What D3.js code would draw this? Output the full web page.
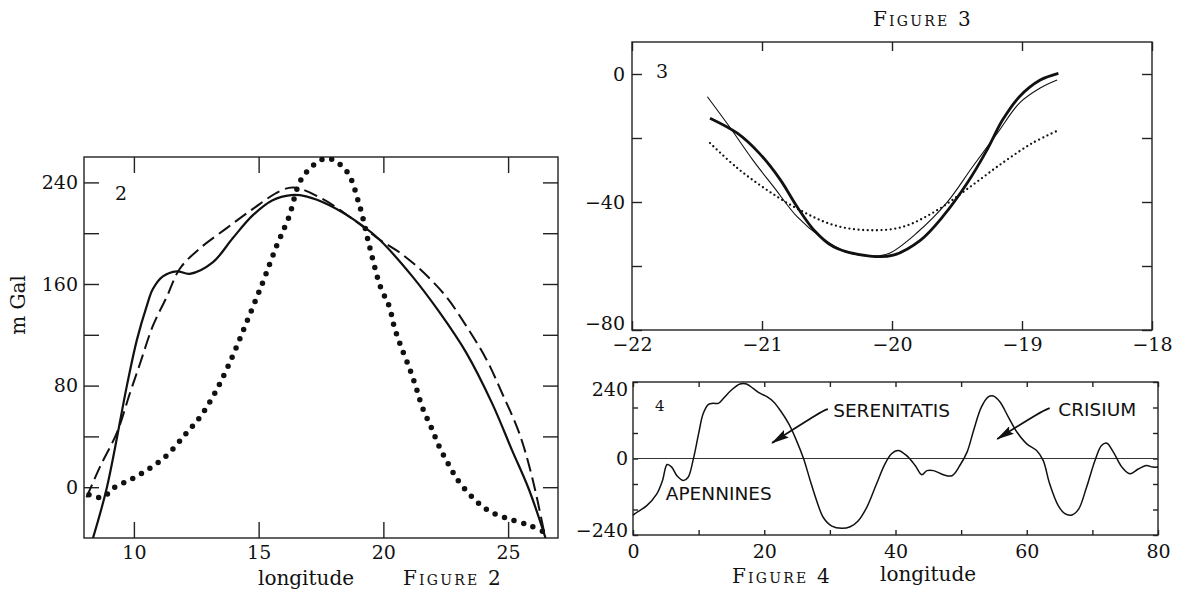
<!DOCTYPE html>
<html>
<head>
<meta charset="utf-8">
<script src="https://cdn.jsdelivr.net/npm/d3@7"></script>
<style>
  html, body { margin: 0; padding: 0; background: #fff; }
  svg { display: block; }
  .frame { fill: none; stroke: #222; stroke-width: 1.4; }
  .tick line { stroke: #222; stroke-width: 1.4; }
  .serif { font-family: "DejaVu Serif", serif; fill: #111; }
  .caps { font-family: "DejaVu Serif", serif; font-variant: small-caps; fill: #111; }
  .sans { font-family: "DejaVu Sans", sans-serif; fill: #111; }
</style>
</head>
<body>
<script>
'use strict';

// ---- figure 2 : gravity profile, three curves (longitude, m Gal)
var fig2Solid = [[8.36, -40], [8.92, 0], [9.72, 80], [10.12, 116], [10.52, 143], [10.76, 156],
    [11.16, 166], [11.72, 170], [12.24, 168], [13.16, 177], [13.96, 196], [14.76, 214],
    [15.56, 226], [16.3, 230], [16.9, 229], [17.84, 222], [19.16, 206], [19.84, 195],
    [21.16, 166], [22.24, 138], [23.32, 106], [24.36, 66], [25.16, 29], [25.84, -2], [26.5, -40]];
var fig2Dashed = [[8.1, -8], [8.64, 16], [9.32, 43], [9.84, 74], [10.24, 97], [10.76, 127],
    [11.32, 150], [11.84, 172], [12.64, 188], [13.72, 204], [14.76, 219], [15.84, 233],
    [16.4, 236], [17.56, 227], [18.92, 209], [19.84, 195], [20.64, 185], [21.56, 170],
    [22.52, 150], [23.32, 127], [24.12, 101], [24.76, 74], [25.44, 43], [25.96, 8], [26.45, -36]];
var fig2Dotted = [[8.2, -6], [8.76, -8], [9.16, -1], [9.96, 7], [10.64, 15], [11.32, 25],
    [12.12, 43], [12.64, 55], [13.16, 71], [13.84, 98], [14.52, 130], [15.16, 161],
    [15.72, 190], [16.2, 212], [16.76, 244], [17.72, 259], [18.52, 249], [19.04, 222],
    [19.44, 190], [19.88, 158], [20.24, 142], [20.44, 126], [20.72, 110], [21.04, 94],
    [21.32, 78], [21.56, 63], [21.92, 47], [22.24, 32], [22.64, 17], [23.04, 4], [23.84, -13],
    [24.36, -20], [25.04, -25], [25.84, -30], [26.4, -35]];
var fig2XTicks = [10, 15, 20, 25];
var fig2YTicks = [0, 40, 80, 120, 160, 200, 240];
var fig2YLabels = [0, 80, 160, 240];

// ---- figure 3
var fig3Thick = [[-21.4, -13.8], [-21.19, -18.5], [-21.02, -24.8], [-20.86, -33], [-20.73, -41.5],
    [-20.6, -48.8], [-20.45, -54], [-20.17, -56.9], [-19.99, -56.6], [-19.78, -51.9],
    [-19.61, -44.6], [-19.42, -34], [-19.27, -23.8], [-19.15, -14.4], [-19.02, -7.1],
    [-18.86, -1.9], [-18.72, 0.2]];
var fig3Thin = [[-21.42, -7.1], [-21.25, -16.5], [-21.07, -26.9], [-20.91, -35.3], [-20.73, -44.6],
    [-20.55, -50.9], [-20.35, -55.6], [-20.15, -56.9], [-20.02, -56], [-19.81, -49.7],
    [-19.58, -40.3], [-19.38, -29], [-19.19, -18.5], [-19.02, -9.1], [-18.86, -4.4],
    [-18.73, -1.9]];
var fig3Dotted = [[-21.4, -21.6], [-21.19, -29.4], [-20.96, -36.3], [-20.71, -42.5],
    [-20.45, -47.2], [-20.19, -48.8], [-19.92, -47.8], [-19.65, -42.5], [-19.4, -35.3],
    [-19.15, -27.8], [-18.92, -21.6], [-18.73, -17.8]];
var fig3XTicks = [-22, -21, -20, -19, -18];
var fig3YTicks = [0, -20, -40, -60, -80];
var fig3YLabels = [0, -40, -80];

// ---- figure 4
var fig4Profile = [[0, -178], [0.3, -173], [2.1, -148], [3.6, -112], [4.5, -69], [5.2, -19],
    [5.9, -27], [6.7, -54], [7.7, -69], [8.4, -59], [9.2, -1], [10, 78], [10.7, 141],
    [11.5, 170], [12.2, 173], [13.0, 173], [13.8, 189], [15.0, 215], [16.3, 234], [17.3, 234],
    [18.3, 220], [19.4, 204], [20.4, 194], [21.4, 178], [22.4, 152], [23.7, 110], [24.9, 57],
    [26.0, -1], [27.0, -69], [28.0, -133], [29.0, -185], [30.3, -212], [31.8, -219],
    [33.1, -214], [34.3, -196], [35.6, -154], [37.1, -80], [38.4, -17], [39.4, 15],
    [40.4, 25], [41.7, 9], [43.0, -22], [44.0, -51], [44.8, -38], [45.8, -38], [47.3, -51],
    [48.6, -54], [49.8, -22], [50.9, 20], [51.9, 88], [53.1, 162], [54.2, 194], [54.9, 196],
    [55.9, 178], [57.2, 130], [58.5, 83], [60.0, 46], [61.5, 25], [62.5, -6], [63.5, -80],
    [64.8, -148], [65.8, -173], [66.9, -177], [67.9, -159], [69.1, -91], [70.4, -6],
    [71.4, 41], [72.2, 48], [73.2, 20], [74.5, -27], [75.7, -48], [77.0, -33], [78.2, -22],
    [79.2, -27], [80, -27]];
var fig4XTicks = [0, 10, 20, 30, 40, 50, 60, 70, 80];
var fig4XLabels = [0, 20, 40, 60, 80];
var fig4YTicks = [-240, -160, -80, 0, 80, 160, 240];
var fig4YLabels = [-240, 0, 240];
var fig4Names = ["SERENITATIS", "CRISIUM", "APENNINES"];
var fig4NamePos = [[30.5, 152], [64.8, 155], [5.0, -108]];
var fig4Arrows = [[[29.7, 155], [28.8, 149], [21.2, 49]], [[63.5, 158], [62.3, 149], [55.5, 61]]];


var moonChart = {};
moonChart.width = 1178;
moonChart.height = 597;

moonChart.appendSvg = function(domObj, width, height){
    var svgNode = d3.select(domObj)
                    .append("svg")
                    .attr("width", width)
                    .attr("height", height);
    svgNode.append("rect").attr("width", width).attr("height", height).attr("fill", "#fff");
    return svgNode;
}

// frame + inward ticks on all four sides
moonChart.appendFrame = function(svg, xScale, yScale, o){
    var x0 = xScale.range()[0], x1 = xScale.range()[1];
    var y0 = yScale.range()[1], y1 = yScale.range()[0];
    var fmt = d3.format("d");
    var yMin = yScale.domain()[0], yMax = yScale.domain()[1];

    var label = function(list){
        return function(d){ return list.indexOf(d) >= 0 ? fmt(d) : ""; };
    };

    var styleAxis = function(g){
        g.select(".domain").remove();
        g.attr("font-family", "DejaVu Serif, serif").attr("font-size", o.fontSize);
        g.selectAll("text").attr("fill", "#111");
    };

    svg.append("g").attr("transform", "translate(0," + y1 + ")")
        .call(d3.axisBottom(xScale).tickValues(o.xTicks).tickSize(-o.xTickLen)
              .tickPadding(o.xPad).tickFormat(label(o.xLabels)))
        .call(styleAxis);
    svg.append("g").attr("transform", "translate(0," + y0 + ")")
        .call(d3.axisTop(xScale).tickValues(o.xTicks).tickSize(-o.xTickLen).tickFormat(""))
        .call(styleAxis);
    var left = svg.append("g").attr("transform", "translate(" + x0 + ",0)")
        .call(d3.axisLeft(yScale).tickValues(o.yTicks).tickSize(-o.yTickLen)
              .tickPadding(o.yPad).tickFormat(label(o.yLabels)))
        .call(styleAxis);
    svg.append("g").attr("transform", "translate(" + x1 + ",0)")
        .call(d3.axisRight(yScale).tickValues(o.yTicks).tickSize(-o.yTickLen).tickFormat(""))
        .call(styleAxis);

    // end labels nudged like the printed figure
    left.selectAll(".tick text")
        .attr("y", function(d){
            if (d === yMin) return -(o.lowShift || 0);
            if (d === yMax) return (o.highShift || 0);
            return 0;
        });

    svg.append("rect").classed("frame", true)
        .attr("x", x0).attr("y", y0)
        .attr("width", x1 - x0).attr("height", y1 - y0);
}

moonChart.appendCurve = function(svg, xScale, yScale, data, width, dash, cap){
    var line = d3.line()
        .x(function(d){ return xScale(d[0]); })
        .y(function(d){ return yScale(d[1]); })
        .curve(d3.curveCatmullRom.alpha(0.5));
    svg.append("path")
        .datum(data)
        .attr("d", line)
        .attr("fill", "none")
        .attr("stroke", "#111")
        .attr("stroke-width", width)
        .attr("stroke-dasharray", dash || null)
        .attr("stroke-linecap", cap || "butt")
        .attr("stroke-linejoin", "round");
}

moonChart.drawFigure2 = function(svg){
    var xScale = d3.scaleLinear().domain([8, 27]).range([84, 558]);
    var yScale = d3.scaleLinear().domain([-40, 260]).range([538, 157]);

    moonChart.appendFrame(svg, xScale, yScale, {
        xTicks: fig2XTicks, xLabels: fig2XTicks, yTicks: fig2YTicks, yLabels: fig2YLabels,
        xTickLen: 16, yTickLen: 15, xPad: 8, yPad: 6, fontSize: 19
    });

    svg.append("clipPath").attr("id", "clip2").append("rect")
        .attr("x", 84).attr("y", 157).attr("width", 474).attr("height", 381);
    var g = svg.append("g").attr("clip-path", "url(#clip2)");
    moonChart.appendCurve(g, xScale, yScale, fig2Solid, 2.2);
    moonChart.appendCurve(g, xScale, yScale, fig2Dashed, 2, "14 6");
    moonChart.appendCurve(g, xScale, yScale, fig2Dotted, 5.5, "0 10", "round");

    svg.append("text").classed("serif", true).attr("x", 115).attr("y", 200)
        .attr("font-size", 19).text("2");
    svg.append("text").classed("serif", true)
        .attr("transform", "translate(25,305) rotate(-90)")
        .attr("text-anchor", "middle").attr("font-size", 20).text("m Gal");
    svg.append("text").classed("serif", true).attr("x", 258).attr("y", 585)
        .attr("font-size", 20).text("longitude");
    svg.append("text").classed("caps", true).attr("x", 403).attr("y", 585)
        .attr("font-size", 20).attr("letter-spacing", 2.2).text("Figure 2");
}

moonChart.drawFigure3 = function(svg){
    var xScale = d3.scaleLinear().domain([-22, -18]).range([632, 1152]);
    var yScale = d3.scaleLinear().domain([-80, 10]).range([330, 42]);

    moonChart.appendFrame(svg, xScale, yScale, {
        xTicks: fig3XTicks, xLabels: fig3XTicks, yTicks: fig3YTicks, yLabels: fig3YLabels,
        xTickLen: 9, yTickLen: 10, xPad: 8, yPad: 7, fontSize: 19, lowShift: 7
    });

    moonChart.appendCurve(svg, xScale, yScale, fig3Thin, 1.1);
    moonChart.appendCurve(svg, xScale, yScale, fig3Thick, 2.8);
    moonChart.appendCurve(svg, xScale, yScale, fig3Dotted, 2.3, "0 4.6", "round");

    svg.append("text").classed("serif", true).attr("x", 656).attr("y", 78)
        .attr("font-size", 19).text("3");
    svg.append("text").classed("caps", true).attr("x", 873).attr("y", 26)
        .attr("font-size", 20).attr("letter-spacing", 2.2).text("Figure 3");
}

moonChart.drawFigure4 = function(svg){
    var xScale = d3.scaleLinear().domain([0, 80]).range([633, 1158]);
    var yScale = d3.scaleLinear().domain([-240, 240]).range([535, 382]);

    moonChart.appendFrame(svg, xScale, yScale, {
        xTicks: fig4XTicks, xLabels: fig4XLabels, yTicks: fig4YTicks, yLabels: fig4YLabels,
        xTickLen: 5, yTickLen: 5, xPad: 10, yPad: 5, fontSize: 19, lowShift: 5, highShift: 7
    });

    svg.append("line")
        .attr("x1", xScale(0)).attr("x2", xScale(80))
        .attr("y1", yScale(0)).attr("y2", yScale(0))
        .attr("stroke", "#333").attr("stroke-width", 1);

    moonChart.appendCurve(svg, xScale, yScale, fig4Profile, 1.5);

    svg.append("defs").append("marker")
        .attr("id", "head")
        .attr("markerUnits", "userSpaceOnUse")
        .attr("markerWidth", 18).attr("markerHeight", 9)
        .attr("refX", 17).attr("refY", 4.5)
        .attr("orient", "auto")
        .append("path").attr("d", "M0,0 L18,4.5 L0,9 L3,4.5 Z").attr("fill", "#111");

    var arrowLine = d3.line()
        .x(function(d){ return xScale(d[0]); })
        .y(function(d){ return yScale(d[1]); })
        .curve(d3.curveBasis);
    svg.selectAll(".arrow")
        .data(fig4Arrows)
        .enter()
            .append("path")
            .classed("arrow", true)
            .attr("d", arrowLine)
            .attr("fill", "none")
            .attr("stroke", "#111")
            .attr("stroke-width", 1.8)
            .attr("marker-end", "url(#head)");

    svg.selectAll(".name")
        .data(fig4Names)
        .enter()
            .append("text")
            .classed("sans", true)
            .attr("x", function(d, i){ return xScale(fig4NamePos[i][0]); })
            .attr("y", function(d, i){ return yScale(fig4NamePos[i][1]); })
            .attr("dy", "0.36em")
            .attr("font-size", 18.5)
            .text(function(d){ return d; });

    svg.append("text").classed("serif", true).attr("x", 655).attr("y", 411)
        .attr("font-size", 15).text("4");
    svg.append("text").classed("caps", true).attr("x", 732).attr("y", 583)
        .attr("font-size", 20).attr("letter-spacing", 2.2).text("Figure 4");
    svg.append("text").classed("serif", true).attr("x", 880).attr("y", 581)
        .attr("font-size", 20).text("longitude");
}

moonChart.run = function(){
    var svgNode = moonChart.appendSvg("body", moonChart.width, moonChart.height);
    moonChart.drawFigure2(svgNode);
    moonChart.drawFigure3(svgNode);
    moonChart.drawFigure4(svgNode);
}

window.onload = moonChart.run;
</script>
</body>
</html>
